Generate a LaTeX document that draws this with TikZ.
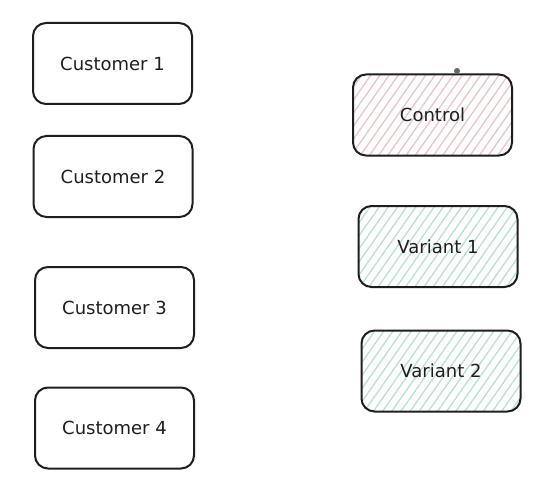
\documentclass[tikz,border=0pt]{standalone}
\usepackage{fontspec}
\setmainfont{DejaVu Sans}
\usetikzlibrary{patterns.meta}
\definecolor{inkline}{RGB}{30,30,30}
\definecolor{pinkhatch}{RGB}{232,196,202}
\definecolor{greenhatch}{RGB}{186,224,208}

\begin{document}
\begin{tikzpicture}[%
  x=1pt, y=-1pt,
  card/.style={draw=inkline, line width=2pt, rounded corners=13pt,
    minimum width=159pt, minimum height=81pt, inner sep=0pt,
    font=\fontsize{18}{21}\selectfont\color{inkline}},
  pinkcard/.style={card, pattern={Lines[angle=55,distance=7.5pt,line width=1.3pt]},
    pattern color=pinkhatch},
  greencard/.style={card, pattern={Lines[angle=55,distance=7.5pt,line width=1.3pt]},
    pattern color=greenhatch}]
\useasboundingbox (0,0) rectangle (555,487);
% customers
\node[card] (cust1) at (112.5,63.5) {Customer 1};
\node[card] (cust2) at (113,176.5) {Customer 2};
\node[card] (cust3) at (114.5,307.5) {Customer 3};
\node[card] (cust4) at (114.5,428) {Customer 4};
% groups
\node[pinkcard] (control) at (432.5,115) {Control};
\node[greencard] (var1) at (438,246.5) {Variant 1};
\node[greencard] (var2) at (441,371) {Variant 2};
\fill[gray!80!black] (457,71) circle (3pt);
\end{tikzpicture}
\end{document}
